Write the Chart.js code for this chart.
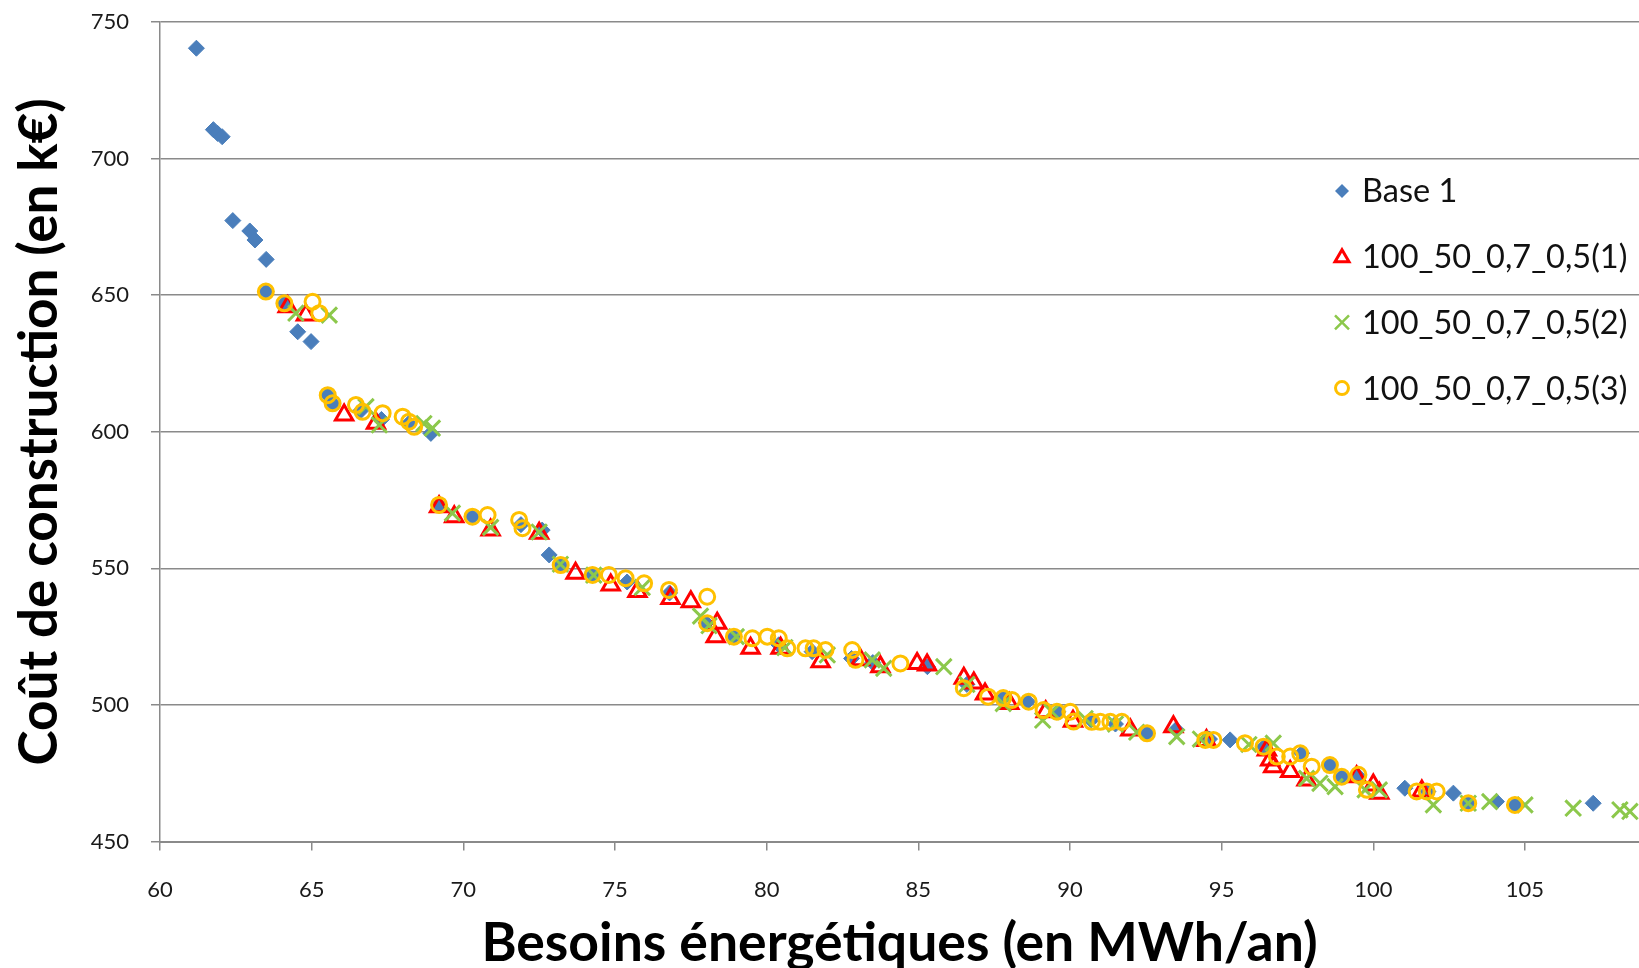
<!DOCTYPE html>
<html>
<head>
<meta charset="utf-8">
<title>Coût de construction vs besoins énergétiques</title>
<script src="https://cdn.jsdelivr.net/npm/chart.js"></script>
<style>
  html, body { margin: 0; padding: 0; background: #fff; }
  #wrap { width: 1639px; height: 968px; }
</style>
</head>
<body>
<div id="wrap"><canvas id="paretoChart" width="1639" height="968"></canvas></div>
<script>
// Besoins énergétiques (MWh/an) / coût de construction (k€)
const base1 = [
  [61.2, 740.4], [61.76, 710.6], [61.9, 709.2], [62.05, 708.0], [62.4, 677.3],
  [62.96, 673.5], [63.13, 670.2], [63.5, 663.1], [63.49, 651.3], [64.1, 647.0],
  [64.54, 636.6], [64.98, 633.0], [65.53, 613.4], [65.69, 610.4], [66.6, 607.5],
  [67.3, 604.5], [68.2, 603.0], [68.93, 599.4], [69.2, 573.2], [70.3, 568.9],
  [71.9, 566.0], [72.6, 564.0], [72.83, 554.9], [73.21, 551.2], [74.26, 547.6],
  [75.4, 545.0], [76.8, 541.0], [78.0, 530.0], [78.92, 525.0], [80.4, 522.0],
  [81.5, 519.5], [82.8, 517.0], [83.5, 515.5], [85.3, 514.0], [86.6, 507.5],
  [87.8, 502.5], [88.6, 501.2], [89.6, 497.5], [90.7, 494.5], [91.5, 493.0],
  [92.54, 489.6], [93.5, 491.0], [94.6, 487.5], [95.28, 487.2], [96.4, 484.7],
  [97.64, 482.3], [98.57, 478.0], [98.96, 473.7], [99.5, 474.0], [101.04, 469.5],
  [101.8, 468.3], [102.64, 467.7], [103.13, 464.0], [104.06, 464.6], [104.67, 463.4],
  [107.25, 464.0]
];
const run1 = [
  [64.21, 645.8], [64.81, 642.7], [66.07, 606.1], [67.12, 603.1], [69.2, 572.5],
  [69.7, 568.9], [70.9, 564.0], [72.5, 562.8], [73.7, 548.2], [74.86, 543.9],
  [75.74, 541.5], [76.83, 539.0], [77.5, 537.8], [78.37, 529.9], [78.32, 525.0],
  [79.47, 520.7], [80.46, 520.7], [81.78, 515.8], [83.09, 516.5], [83.75, 514.0],
  [84.96, 515.2], [85.29, 514.6], [86.5, 509.8], [86.83, 508.0], [87.2, 504.0],
  [88.0, 500.5], [89.2, 497.5], [90.1, 494.0], [91.99, 490.8], [93.41, 492.0],
  [94.5, 487.0], [96.49, 483.5], [96.6, 479.8], [96.7, 477.4], [97.26, 475.6],
  [97.8, 472.5], [99.45, 473.7], [100.0, 470.7], [100.2, 467.7], [101.6, 468.5]
];
const run2 = [
  [64.48, 643.4], [65.58, 642.7], [66.79, 609.2], [67.23, 602.5], [68.7, 603.0],
  [68.98, 601.3], [69.64, 570.2], [70.9, 565.0], [72.5, 563.3], [73.2, 551.5],
  [74.3, 547.5], [75.9, 543.0], [77.82, 532.5], [78.1, 529.0], [79.0, 525.0],
  [80.6, 521.0], [82.0, 518.3], [83.48, 516.5], [83.86, 513.4], [85.84, 514.0],
  [86.6, 507.5], [87.8, 500.5], [89.1, 494.4], [89.4, 497.5], [90.5, 495.0],
  [91.5, 493.0], [92.2, 490.0], [93.52, 488.4], [94.3, 487.5], [95.9, 485.5],
  [96.7, 486.0], [97.8, 473.1], [98.24, 471.3], [98.74, 470.1], [99.73, 468.9],
  [100.2, 468.9], [101.98, 463.4], [103.13, 464.0], [103.84, 464.6], [105.0, 463.4],
  [106.59, 462.2], [108.13, 461.6], [108.46, 461.0]
];
const run3 = [
  [63.49, 651.3], [64.1, 647.0], [65.03, 647.6], [65.25, 643.4], [65.53, 613.4],
  [65.69, 610.4], [66.46, 609.8], [66.68, 607.3], [67.34, 606.8], [68.0, 605.5],
  [68.21, 603.7], [68.38, 601.8], [69.2, 573.2], [70.3, 568.9], [70.8, 569.5],
  [71.84, 567.7], [71.95, 564.7], [73.21, 551.2], [74.26, 547.6], [74.8, 547.6],
  [75.35, 546.4], [75.96, 544.5], [76.78, 542.1], [78.04, 539.6], [78.04, 529.9],
  [78.92, 525.0], [79.53, 524.4], [80.02, 525.0], [80.4, 524.4], [80.68, 520.7],
  [81.28, 520.7], [81.55, 520.7], [81.94, 520.1], [82.82, 520.1], [82.93, 516.5],
  [84.41, 515.2], [86.5, 506.1], [87.3, 503.0], [87.8, 502.5], [88.09, 501.8],
  [88.64, 501.2], [89.13, 498.1], [89.57, 497.5], [90.01, 497.5], [90.12, 493.9],
  [90.72, 493.8], [91.0, 493.8], [91.33, 493.8], [91.71, 493.8], [92.54, 489.6],
  [94.46, 487.2], [94.73, 487.2], [95.77, 486.0], [96.38, 484.7], [96.82, 481.1],
  [97.26, 481.1], [97.59, 482.3], [97.97, 477.4], [98.57, 478.0], [98.96, 473.7],
  [99.51, 474.4], [99.79, 468.9], [101.43, 468.3], [101.76, 468.3], [102.09, 468.3],
  [103.13, 464.0], [104.67, 463.4]
];

const seriesNames = ['Base 1', '100_50_0,7_0,5(1)', '100_50_0,7_0,5(2)', '100_50_0,7_0,5(3)'];
const xTicks = [60, 65, 70, 75, 80, 85, 90, 95, 100, 105];
const yTicks = [450, 500, 550, 600, 650, 700, 750];

const toPoints = arr => arr.map(p => ({ x: p[0], y: p[1] }));
const gridGray = '#8a8a8a';
const FONT = 'Lato, "Open Sans", sans-serif';

// legend drawn over the plot, like the spreadsheet version (no box, no fill)
const overlayLegend = {
  id: 'overlayLegend',
  afterDraw(chart) {
    const ctx = chart.ctx;
    const x0 = 1342, tx = 1362, y0 = 191, step = 65.7;
    chart.data.datasets.forEach((ds, i) => {
      const y = y0 + i * step;
      ctx.save();
      ctx.strokeStyle = ds.borderColor;
      ctx.fillStyle = ds.backgroundColor;
      ctx.lineWidth = ds.pointBorderWidth;
      ctx.beginPath();
      if (ds.pointStyle === 'rectRot') {
        ctx.moveTo(x0 - 7, y); ctx.lineTo(x0, y - 7); ctx.lineTo(x0 + 7, y); ctx.lineTo(x0, y + 7);
        ctx.closePath(); ctx.fill();
      } else if (ds.pointStyle === 'triangle') {
        ctx.lineWidth = 3;
        ctx.moveTo(x0, y - 7); ctx.lineTo(x0 + 7, y + 5); ctx.lineTo(x0 - 7, y + 5);
        ctx.closePath(); ctx.stroke();
      } else if (ds.pointStyle === 'crossRot') {
        ctx.lineWidth = 2.5;
        ctx.moveTo(x0 - 7, y - 7); ctx.lineTo(x0 + 7, y + 7);
        ctx.moveTo(x0 + 7, y - 7); ctx.lineTo(x0 - 7, y + 7);
        ctx.stroke();
      } else {
        ctx.lineWidth = 3;
        ctx.arc(x0, y, 6.5, 0, Math.PI * 2);
        ctx.stroke();
      }
      ctx.fillStyle = '#111';
      ctx.font = '32.5px ' + FONT;
      ctx.textBaseline = 'middle';
      ctx.textAlign = 'left';
      ctx.fillText(ds.label, tx, y + 1);
      ctx.restore();
    });
  }
};

const ctx = document.getElementById('paretoChart').getContext('2d');
new Chart(ctx, {
  type: 'scatter',
  data: {
    datasets: [
      {
        label: seriesNames[0], data: toPoints(base1), order: 4,
        pointStyle: 'rectRot', pointRadius: 8, pointBorderWidth: 1,
        backgroundColor: '#4a7ebb', borderColor: '#4a7ebb'
      },
      {
        label: seriesNames[1], data: toPoints(run1), order: 3,
        pointStyle: 'triangle', pointRadius: 10, pointBorderWidth: 3,
        backgroundColor: 'rgba(0,0,0,0)', borderColor: '#ff0000'
      },
      {
        label: seriesNames[2], data: toPoints(run2), order: 2,
        pointStyle: 'crossRot', pointRadius: 11, pointBorderWidth: 3,
        backgroundColor: 'rgba(0,0,0,0)', borderColor: '#8cc84b'
      },
      {
        label: seriesNames[3], data: toPoints(run3), order: 1,
        pointStyle: 'circle', pointRadius: 7.5, pointBorderWidth: 3,
        backgroundColor: 'rgba(0,0,0,0)', borderColor: '#ffc000'
      }
    ]
  },
  options: {
    responsive: false,
    animation: false,
    layout: { autoPadding: false, padding: { top: 22, right: 0, left: 0, bottom: 0 } },
    plugins: {
      legend: { display: false },
      tooltip: { enabled: false }
    },
    scales: {
      x: {
        type: 'linear',
        min: 60,
        max: 108.76,
        afterFit: s => {
          s.height = 968 - 841.5;
          s.paddingLeft = 0;
          s.paddingRight = 0;
        },
        afterBuildTicks: s => { s.ticks = xTicks.map(v => ({ value: v })); },
        grid: { drawOnChartArea: false, drawTicks: true, tickLength: 9, color: gridGray, lineWidth: 1.5 },
        border: { color: gridGray, width: 2 },
        ticks: { padding: 26, color: '#1a1a1a', font: { family: FONT, size: 22 }, maxRotation: 0 },
        title: {
          display: true,
          text: 'Besoins énergétiques (en MWh/an)',
          color: '#000',
          font: { family: FONT, size: 53.5, weight: 'bold', lineHeight: 1 },
          padding: { top: 0, bottom: -2 }
        }
      },
      y: {
        type: 'linear',
        min: 450,
        max: 750,
        afterFit: s => {
          s.width = 160;
          s.paddingTop = 0;
          s.paddingBottom = 0;
        },
        afterBuildTicks: s => { s.ticks = yTicks.map(v => ({ value: v })); },
        grid: { color: gridGray, lineWidth: 1.5, tickLength: 9 },
        border: { color: gridGray, width: 1.5 },
        ticks: { padding: 22, color: '#1a1a1a', font: { family: FONT, size: 22 } },
        title: {
          display: true,
          text: 'Coût de construction (en k€)',
          color: '#000',
          font: { family: FONT, size: 53, weight: 'bold', lineHeight: 1 },
          padding: { top: 13, bottom: 0 }
        }
      }
    }
  },
  plugins: [overlayLegend]
});
</script>
</body>
</html>
